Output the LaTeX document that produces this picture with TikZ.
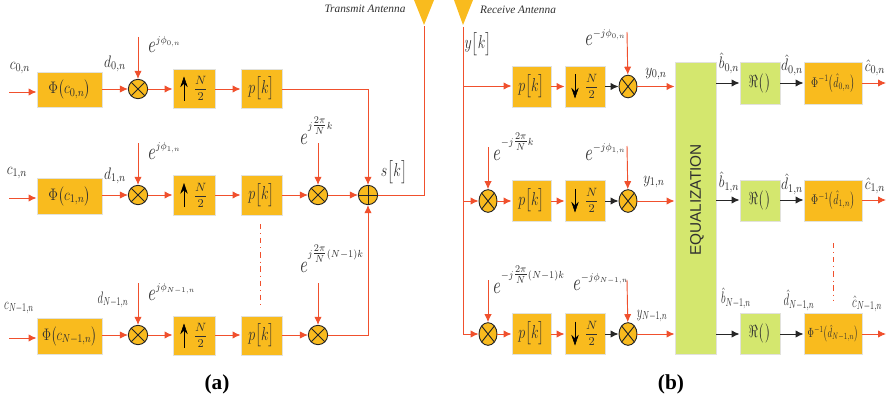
\RequirePackage{fix-cm}
\documentclass[tikz,border=0pt]{standalone}
\usepackage{fontspec}
\usepackage{amsmath}
\usepackage{graphicx}
\usetikzlibrary{arrows.meta,shapes.geometric}
\newfontfamily\capfont{Liberation Serif}
\newfontfamily\eqfont{Liberation Sans}
\definecolor{amber}{HTML}{F9BB1E}
\definecolor{lime}{HTML}{D4E76E}
\definecolor{redline}{HTML}{F0502D}
\definecolor{edgegray}{HTML}{E2E2DC}
\definecolor{inkgray}{HTML}{303030}
\newcommand{\Bx}[7]{%
  \node[#6,minimum width={(#4-#3)*0.75pt},minimum height={(#5-#2)*0.75pt}] (#1) at ({(#3+#4)/2},{(#2+#5)/2}) {#7};}
\newcommand{\RateUp}[1]{%
  \draw[-{Stealth[length=8pt,width=5.5pt]},line width=.4pt,black] ([xshift=-7.5pt,yshift=-9pt]#1.center) -- ([xshift=-7.5pt,yshift=9pt]#1.center);
  \node[fraclab] at ([xshift=5pt,yshift=0pt]#1.center) {$\dfrac{N}{2}$};}
\newcommand{\RateDown}[1]{%
  \draw[-{Stealth[length=8pt,width=5.5pt]},line width=.4pt,black] ([xshift=-7.5pt,yshift=9pt]#1.center) -- ([xshift=-7.5pt,yshift=-9pt]#1.center);
  \node[fraclab] at ([xshift=5pt,yshift=0pt]#1.center) {$\dfrac{N}{2}$};}
% base e with a raised, slightly condensed exponent
\newcommand{\Ex}[2]{\scalebox{1.1}[1.6]{$e$}\raisebox{#1}{\scalebox{0.88}[1]{$\scriptstyle #2$}}}
% the 2 pi over N fraction, with readable numerals inside an exponent
\newcommand{\Tp}{\genfrac{}{}{}{1}{\scriptstyle 2\pi}{\scriptstyle N}}
% condensed math labels
\newcommand{\Lb}[1]{\scalebox{0.82}[1]{$#1$}}
\newcommand{\Lc}[1]{\scalebox{0.65}[1]{$#1$}}
\newcommand{\Pk}[1]{\scalebox{0.75}[1]{$#1$}}
\tikzset{
  x=0.75pt,y=-0.75pt,
  abox/.style={draw=edgegray,line width=.7pt,fill=amber,inner sep=0pt,text=inkgray,font=\fontsize{12.5}{14}\selectfont},
  gbox/.style={draw=edgegray,line width=.7pt,fill=lime,inner sep=0pt,text=inkgray,font=\fontsize{13}{15}\selectfont},
  mulc/.style={circle,draw=black!85,line width=.7pt,fill=amber,inner sep=0pt,minimum size=14.5pt,
    path picture={\draw[black!85,line width=.7pt] (path picture bounding box.north west)--(path picture bounding box.south east)
      (path picture bounding box.north east)--(path picture bounding box.south west);}},
  mule/.style={ellipse,draw=black!85,line width=.7pt,fill=amber,inner sep=0pt,minimum width=13.5pt,minimum height=17pt,
    path picture={\draw[black!85,line width=.7pt] (path picture bounding box.north west)--(path picture bounding box.south east)
      (path picture bounding box.north east)--(path picture bounding box.south west);}},
  addc/.style={circle,draw=black!85,line width=.7pt,fill=amber,inner sep=0pt,minimum size=14.5pt,
    path picture={\draw[black!85,line width=.7pt] (path picture bounding box.north)--(path picture bounding box.south)
      (path picture bounding box.west)--(path picture bounding box.east);}},
  ant/.style={fill=amber,draw=none},
  rl/.style={draw=redline,line width=.7pt},
  ra/.style={rl,-{Latex[length=6pt,width=5.5pt]}},
  ba/.style={draw=black!85,line width=.7pt,-{Latex[length=6pt,width=5.5pt]}},
  dd/.style={draw=redline,line width=.5pt,dash pattern=on 4pt off 3pt on .6pt off 3pt},
  lab/.style={inner sep=0pt,text=inkgray,font=\fontsize{12.5}{14}\selectfont},
  plab/.style={inner sep=0pt,text=inkgray,font=\fontsize{14}{16}\selectfont},
  elab/.style={inner sep=0pt,anchor=base west,text=inkgray,font=\fontsize{11}{13}\selectfont},
  fraclab/.style={inner sep=0pt,text=inkgray,font=\fontsize{9}{11}\selectfont},
  anttext/.style={inner sep=0pt,text=inkgray,font=\capfont\itshape\fontsize{8.5}{10}\selectfont},
  captext/.style={inner sep=0pt,text=black,font=\capfont\bfseries\fontsize{16}{18}\selectfont},
}
\begin{document}
\begin{tikzpicture}
\useasboundingbox (0,0) rectangle (892,403);
% --- transmitter blocks
\Bx{phiA}{72}{37}{102}{107}{abox}{\Lb{\Phi\bigl(c_{0,n}\bigr)}}
\Bx{phiB}{178}{37}{102}{214}{abox}{\Lb{\Phi\bigl(c_{1,n}\bigr)}}
\Bx{phiC}{318}{37}{102}{354}{abox}{\scalebox{0.76}[1]{$\Phi\bigl(c_{N-1,n}\bigr)$}}
\node[mulc] (mA) at (138,89) {};
\node[mulc] (mB) at (138,195) {};
\node[mulc] (mC) at (138,335) {};
\Bx{upA}{69}{173}{215}{108}{abox}{}
\Bx{upB}{175}{173}{215}{215}{abox}{}
\Bx{upC}{316}{173}{215}{355}{abox}{}
\RateUp{upA}\RateUp{upB}\RateUp{upC}
\Bx{pA}{69}{241}{282}{108}{abox,plab}{\Pk{p\bigl[k\bigr]}}
\Bx{pB}{175}{241}{282}{215}{abox,plab}{\Pk{p\bigl[k\bigr]}}
\Bx{pC}{316}{241}{282}{355}{abox,plab}{\Pk{p\bigl[k\bigr]}}
\node[mulc] (m2B) at (318,195) {};
\node[mulc] (m2C) at (318,335) {};
\node[addc] (sum) at (368,195) {};
% antennas
\path[ant] (414,0) -- (434,0) -- (424,25) -- cycle;
\path[ant] (454,0) -- (473,0) -- (463,25) -- cycle;
\coordinate (txant) at (424,26);
\coordinate (rxant) at (463,27);
% free ends
\coordinate (inA) at (9,92);
\coordinate (inB) at (9,198);
\coordinate (inC) at (9,338);
\coordinate (phA) at (138,37);
\coordinate (phB) at (138,143);
\coordinate (phC) at (138,283);
\coordinate (cxB) at (318,143);
\coordinate (cxC) at (318,283);
\draw[ra] (inA) -- (inA -| phiA.west);
\draw[ra] (inB) -- (inB -| phiB.west);
\draw[ra] (inC) -- (inC -| phiC.west);
\foreach \r in {A,B,C}{
  \draw[ra] (phi\r.east |- m\r.center) -- (m\r);
  \draw[ra] (ph\r) -- (m\r);
  \draw[ra] (m\r) -- (up\r.west |- m\r.center);
  \draw[ra] (up\r.east |- m\r.center) -- (p\r.west |- m\r.center);
}
\draw[ra] (pB.east |- mB.center) -- (m2B);
\draw[ra] (pC.east |- mC.center) -- (m2C);
\draw[ra] (cxB) -- (m2B);
\draw[ra] (cxC) -- (m2C);
\draw[ra] (m2B) -- (sum);
\draw[ra] (pA.east |- mA.center) -| (sum);
\draw[ra] (m2C) -| (sum);
\draw[rl] (sum) -| (txant);
\draw[dd] (260,224) -- (260,305);
% --- transmitter labels
\node[lab] (lc0) at (20,68) {\Lb{c_{0,n}}};
\node[lab] (lc1) at (17,173) {\Lb{c_{1,n}}};
\node[lab] (lc2) at (19,308) {\Lc{c_{N-1,n}}};
\node[lab] (ld0) at (115,64) {\Lb{d_{0,n}}};
\node[lab] (ld1) at (115,176) {\Lb{d_{1,n}}};
\node[lab] (ld2) at (113,300) {\Lc{d_{N-1,n}}};
\node[elab] (le0) at (148,53) {\Ex{7pt}{j\phi_{0,n}}};
\node[elab] (le1) at (148,159) {\Ex{7pt}{j\phi_{1,n}}};
\node[elab] (le2) at (148,300) {\Ex{7pt}{j\phi_{N-1,n}}};
\node[elab] (lx1) at (300,144) {\Ex{11pt}{j\Tp k}};
\node[elab] (lx2) at (300,272) {\Ex{11pt}{j\Tp (N-1)k}};
\node[plab] (ls) at (394,172) {\Pk{s\bigl[k\bigr]}};
\node[anttext] (ltx) at (365,9) {Transmit Antenna};
\node[anttext] (lrx) at (518,10) {Receive Antenna};
\node[captext] (capa) at (217,384) {(a)};
\node[captext] (capb) at (671,384) {(b)};
% --- receiver blocks
\node[mule] (qB) at (488,201) {};
\node[mule] (qC) at (488,334) {};
\Bx{rpA}{66}{512}{551}{107}{abox,plab}{\Pk{p\bigl[k\bigr]}}
\Bx{rpB}{180}{512}{551}{221}{abox,plab}{\Pk{p\bigl[k\bigr]}}
\Bx{rpC}{313}{512}{551}{354}{abox,plab}{\Pk{p\bigl[k\bigr]}}
\Bx{dnA}{66}{565}{605}{107}{abox}{}
\Bx{dnB}{180}{565}{605}{221}{abox}{}
\Bx{dnC}{313}{565}{605}{354}{abox}{}
\RateDown{dnA}\RateDown{dnB}\RateDown{dnC}
\node[mule] (rA) at (628,86.5) {};
\node[mule] (rB) at (628,201) {};
\node[mule] (rC) at (628,334) {};
\Bx{eq}{62}{675}{716}{354}{gbox}{}
\node[rotate=90,inner sep=0pt,text=inkgray,font=\eqfont\fontsize{11.5}{13}\selectfont] (eqt) at (697,200) {EQUALIZATION};
\Bx{reA}{62}{740}{780}{104}{gbox}{\Pk{\Re\bigl(\,\bigr)}}
\Bx{reB}{180}{740}{780}{221}{gbox}{\Pk{\Re\bigl(\,\bigr)}}
\Bx{reC}{313}{740}{780}{354}{gbox}{\Pk{\Re\bigl(\,\bigr)}}
\Bx{invA}{62}{804}{862}{104}{abox}{\fontsize{10.5}{12}\selectfont\scalebox{0.7}[1]{$\Phi^{-1}\bigl(\hat d_{0,n}\bigr)$}}
\Bx{invB}{180}{804}{862}{221}{abox}{\fontsize{10.5}{12}\selectfont\scalebox{0.7}[1]{$\Phi^{-1}\bigl(\hat d_{1,n}\bigr)$}}
\Bx{invC}{313}{804}{862}{354}{abox}{\fontsize{10}{12}\selectfont\scalebox{0.66}[1]{$\Phi^{-1}\bigl(\hat d_{N-1,n}\bigr)$}}
\coordinate (jA) at (463,86);
\coordinate (jB) at (463,201);
\coordinate (jC) at (463,334);
\coordinate (gA) at (627,32);
\coordinate (gB) at (627,146);
\coordinate (gC) at (627,280);
\coordinate (fB) at (488,147);
\coordinate (fC) at (488,280);
\coordinate (oA) at (886,83);
\coordinate (oB) at (886,200);
\coordinate (oC) at (886,334);
\draw[rl] (rxant) -- (jC);
\draw[ra] (jA) -- (rpA.west |- jA);
\draw[ra] (jB) -- (qB);
\draw[ra] (jC) -- (qC);
\draw[ra] (fB) -- (qB);
\draw[ra] (fC) -- (qC);
\draw[ra] (qB) -- (rpB.west |- qB);
\draw[ra] (qC) -- (rpC.west |- qC);
\foreach \r in {A,B,C}{
  \draw[ra] (rp\r.east |- r\r.center) -- (dn\r.west |- r\r.center);
  \draw[ba] (dn\r.east |- r\r.center) -- (r\r);
  \draw[ra] (g\r) -- (r\r);
  \draw[ra] (r\r) -- (eq.west |- r\r.center);
  \draw[ba] (eq.east |- o\r) -- (re\r.west |- o\r);
  \draw[ba] (re\r.east |- o\r) -- (inv\r.west |- o\r);
  \draw[ra] (inv\r.east |- o\r) -- (o\r);
}
\draw[dd] (833,243) -- (833,300);
% --- receiver labels
\node[plab] (ly) at (478,44) {\Pk{y\bigl[k\bigr]}};
\node[elab] (lg0) at (585,46) {\Ex{7pt}{-j\phi_{0,n}}};
\node[elab] (lg1) at (585,160) {\Ex{7pt}{-j\phi_{1,n}}};
\node[elab] (lg2) at (573,290) {\Ex{7pt}{-j\phi_{N-1,n}}};
\node[elab] (lf1) at (493,160) {\Ex{11pt}{-j\Tp k}};
\node[elab] (lf2) at (493,293) {\Ex{11pt}{-j\Tp (N-1)k}};
\node[lab] (ly0) at (656,74) {\Lb{y_{0,n}}};
\node[lab] (ly1) at (654,182) {\Lb{y_{1,n}}};
\node[lab] (ly2) at (652,316) {\Lc{y_{N-1,n}}};
\node[lab] (lb0) at (729,63) {\Lb{\hat b_{0,n}}};
\node[lab] (lb1) at (729,182) {\Lb{\hat b_{1,n}}};
\node[lab] (lb2) at (736,298) {\Lc{\hat b_{N-1,n}}};
\node[lab] (lh0) at (792,65) {\Lb{\hat d_{0,n}}};
\node[lab] (lh1) at (792,184) {\Lb{\hat d_{1,n}}};
\node[lab] (lh2) at (799,300) {\Lc{\hat d_{N-1,n}}};
\node[lab] (lk0) at (875,68) {\Lb{\hat c_{0,n}}};
\node[lab] (lk1) at (875,186) {\Lb{\hat c_{1,n}}};
\node[lab] (lk2) at (867,304) {\Lc{\hat c_{N-1,n}}};
\end{tikzpicture}
\end{document}
